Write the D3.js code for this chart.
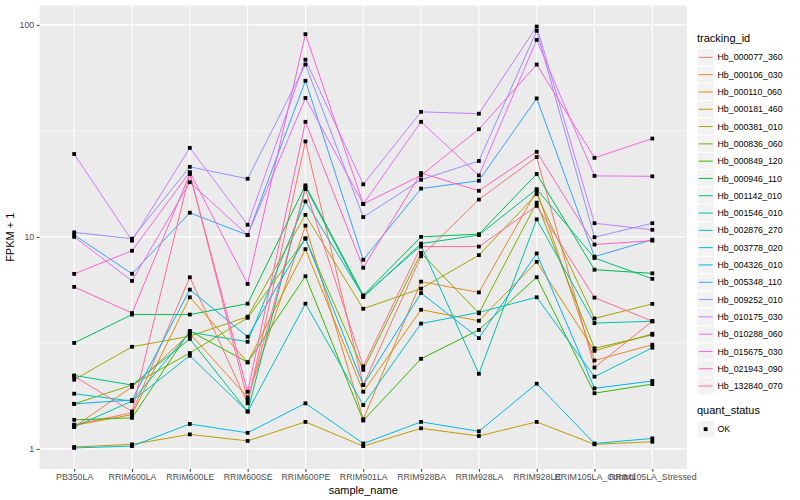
<html>
<head>
  <title>FPKM by sample</title>
  <script src="https://d3js.org/d3.v7.min.js"></script>
  <style>
    body { margin: 0; background: #fff; }
    text { font-family: "Liberation Sans", Arial, sans-serif; }
  </style>
</head>
<body>
<script>

// sample names along x
var samples = ["PB350LA", "RRIM600LA", "RRIM600LE", "RRIM600SE", "RRIM600PE", "RRIM901LA",
               "RRIM928BA", "RRIM928LA", "RRIM928LE", "RRIM105LA_Control", "RRIM105LA_Stressed"];

// FPKM + 1, one array per tracking id
var hb_000077_360 = [1.30, 1.48, 6.45, 1.64, 28.2, 2.0, 8.1, 15.0, 23.8, 2.42, 4.0];
var hb_000106_030 = [1.27, 1.96, 3.5, 1.75, 11.3, 1.38, 6.15, 5.47, 16.5, 2.61, 3.1];
var hb_000110_060 = [1.29, 1.45, 5.19, 2.56, 8.75, 1.86, 4.53, 4.02, 7.63, 2.9, 3.49];
var hb_000181_460 = [1.02, 1.05, 1.17, 1.09, 1.34, 1.03, 1.25, 1.15, 1.34, 1.05, 1.08];
var hb_000381_010 = [2.12, 3.03, 3.4, 4.2, 12.7, 4.58, 5.7, 8.2, 15.9, 4.12, 4.83];
var hb_000836_060 = [1.63, 2.0, 2.83, 4.15, 9.8, 2.36, 8.4, 4.36, 14.5, 2.98, 3.45];
var hb_000849_120 = [1.37, 1.4, 3.6, 2.56, 6.52, 1.36, 2.66, 3.64, 6.45, 1.83, 2.02];
var hb_000946_110 = [3.16, 4.3, 4.3, 4.84, 17.5, 5.3, 10.0, 10.3, 19.8, 7.0, 6.73];
var hb_001142_010 = [2.22, 2.0, 3.3, 1.5, 17.2, 5.2, 9.3, 10.2, 16.8, 7.95, 6.34];
var hb_001546_010 = [1.27, 1.68, 3.55, 3.2, 14.7, 5.25, 9.1, 2.26, 12.1, 3.92, 4.0];
var hb_002876_270 = [1.82, 1.68, 2.75, 1.5, 4.84, 1.61, 3.9, 4.4, 5.19, 2.19, 3.0];
var hb_003778_020 = [1.01, 1.03, 1.31, 1.19, 1.64, 1.06, 1.34, 1.21, 2.03, 1.06, 1.12];
var hb_004326_010 = [1.63, 1.7, 5.64, 3.38, 9.85, 2.0, 5.43, 3.33, 8.35, 1.93, 2.09];
var hb_005348_110 = [10.2, 6.7, 13.0, 10.2, 54.5, 7.8, 16.9, 18.4, 45.0, 8.07, 9.7];
var hb_009252_010 = [10.5, 9.8, 21.4, 18.8, 65.0, 12.4, 18.6, 22.8, 93.8, 9.96, 11.6];
var hb_010175_030 = [24.6, 9.6, 26.3, 11.4, 68.5, 17.7, 38.9, 38.1, 98.2, 11.6, 10.8];
var hb_010288_060 = [10.0, 6.2, 18.1, 10.2, 45.2, 14.3, 34.9, 19.5, 85.0, 19.4, 19.3];
var hb_015675_030 = [6.69, 8.6, 20.2, 6.0, 90.4, 14.3, 19.5, 32.2, 65.0, 23.6, 29.1];
var hb_021943_090 = [5.81, 4.37, 19.8, 1.86, 34.9, 7.15, 20.0, 16.5, 25.2, 9.2, 9.6];
var hb_132840_070 = [2.2, 1.5, 20.0, 1.7, 16.8, 2.45, 9.0, 9.0, 14.0, 5.17, 4.0];

var trackingIds = ["Hb_000077_360", "Hb_000106_030", "Hb_000110_060", "Hb_000181_460", "Hb_000381_010",
                   "Hb_000836_060", "Hb_000849_120", "Hb_000946_110", "Hb_001142_010", "Hb_001546_010",
                   "Hb_002876_270", "Hb_003778_020", "Hb_004326_010", "Hb_005348_110", "Hb_009252_010",
                   "Hb_010175_030", "Hb_010288_060", "Hb_015675_030", "Hb_021943_090", "Hb_132840_070"];
var seriesValues = [hb_000077_360, hb_000106_030, hb_000110_060, hb_000181_460, hb_000381_010,
                    hb_000836_060, hb_000849_120, hb_000946_110, hb_001142_010, hb_001546_010,
                    hb_002876_270, hb_003778_020, hb_004326_010, hb_005348_110, hb_009252_010,
                    hb_010175_030, hb_010288_060, hb_015675_030, hb_021943_090, hb_132840_070];

var yTicks = [1, 10, 100];
var yMinor = [Math.sqrt(10), Math.sqrt(1000)];

// ggplot hue palette, 20 levels
var colours = ["#F8766D", "#EA8331", "#D89000", "#C09B00", "#A3A500", "#7CAE00", "#39B600", "#00BB4E",
               "#00BF7D", "#00C1A3", "#00BFC4", "#00BAE0", "#00B0F6", "#35A2FF", "#9590FF", "#C77CFF",
               "#E76BF3", "#FA62DB", "#FF62BC", "#FF6C91"];

var series = trackingIds.map(function(id, i) {
    return {id: id, colour: colours[i],
            values: seriesValues[i].map(function(v, j) { return {sample: samples[j], value: v}; })};
});

var width = 800;
var height = 500;
var panel = {left: 39.5, right: 687, top: 5.5, bottom: 469};

var svg = d3.select('body')
            .append('svg')
            .attr('width', width)
            .attr('height', height);

var x = d3.scalePoint()
    .domain(samples)
    .range([panel.left, panel.right])
    .padding(0.6);

// log scale with ggplot's 5% expansion done in log space
var allVals = d3.merge(seriesValues);
var lo = Math.log10(d3.min(allVals)), hi = Math.log10(d3.max(allVals));
var pad = (hi - lo) * 0.05;
var y = d3.scaleLog()
    .domain([Math.pow(10, lo - pad), Math.pow(10, hi + pad)])
    .range([panel.bottom, panel.top]);

// panel background + grid
svg.append('rect')
    .attr('x', panel.left).attr('y', panel.top)
    .attr('width', panel.right - panel.left)
    .attr('height', panel.bottom - panel.top)
    .attr('fill', '#EBEBEB');

var grid = svg.append('g');
grid.selectAll('line.minor')
    .data(yMinor)
    .enter().append('line')
    .attr('x1', panel.left).attr('x2', panel.right)
    .attr('y1', d => y(d)).attr('y2', d => y(d))
    .attr('stroke', '#fff').attr('stroke-width', 0.55);
grid.selectAll('line.majory')
    .data(yTicks)
    .enter().append('line')
    .attr('x1', panel.left).attr('x2', panel.right)
    .attr('y1', d => y(d)).attr('y2', d => y(d))
    .attr('stroke', '#fff').attr('stroke-width', 1.1);
grid.selectAll('line.majorx')
    .data(samples)
    .enter().append('line')
    .attr('x1', d => x(d)).attr('x2', d => x(d))
    .attr('y1', panel.top).attr('y2', panel.bottom)
    .attr('stroke', '#fff').attr('stroke-width', 1.1);

// lines
var line = d3.line()
    .x(d => x(d.sample))
    .y(d => y(d.value));

svg.append('g').selectAll('path')
    .data(series)
    .enter()
    .append('path')
    .attr('d', d => line(d.values))
    .attr('fill', 'none')
    .attr('stroke', d => d.colour)
    .attr('stroke-width', 1);

// points
var points = svg.append('g');
series.forEach(function(s) {
    points.selectAll(null)
        .data(s.values)
        .enter()
        .append('rect')
        .attr('x', d => x(d.sample) - 1.9)
        .attr('y', d => y(d.value) - 1.9)
        .attr('width', 3.8)
        .attr('height', 3.8)
        .attr('fill', '#000');
});

// axes
var xAxis = svg.append('g')
    .attr('transform', 'translate(0,' + panel.bottom + ')')
    .call(d3.axisBottom(x).tickSize(2.75).tickPadding(2.5));
var yAxis = svg.append('g')
    .attr('transform', 'translate(' + panel.left + ',0)')
    .call(d3.axisLeft(y).tickValues(yTicks).tickFormat(d3.format('d')).tickSize(2.75).tickPadding(2.5));
[xAxis, yAxis].forEach(function(a) {
    a.select('.domain').remove();
    a.selectAll('.tick line').attr('stroke', '#333').attr('stroke-width', 1);
    a.selectAll('.tick text').attr('fill', '#4D4D4D').style('font-size', '8.8px')
        .style('font-family', '"Liberation Sans", Arial, sans-serif');
});

svg.append('text')
    .attr('x', (panel.left + panel.right) / 2)
    .attr('y', 494)
    .attr('text-anchor', 'middle')
    .style('font-size', '11px')
    .text('sample_name');

svg.append('text')
    .attr('transform', 'translate(14,' + (panel.top + panel.bottom) / 2 + ') rotate(-90)')
    .attr('text-anchor', 'middle')
    .style('font-size', '11px')
    .text('FPKM + 1');

// legend: tracking_id
var legend = svg.append('g').attr('transform', 'translate(697,0)');
legend.append('text')
    .attr('x', 0).attr('y', 42)
    .style('font-size', '11px')
    .text('tracking_id');

var keyH = 17.3;
var items = legend.selectAll('g.item')
    .data(series)
    .enter().append('g')
    .attr('transform', (d, i) => 'translate(0,' + (48.7 + i * keyH) + ')');
items.append('rect')
    .attr('width', 17.3).attr('height', keyH)
    .attr('fill', '#F2F2F2').attr('stroke', '#fff').attr('stroke-width', 1);
items.append('line')
    .attr('x1', 1.7).attr('x2', 15.6)
    .attr('y1', keyH / 2).attr('y2', keyH / 2)
    .attr('stroke', d => d.colour).attr('stroke-width', 1);
items.append('text')
    .attr('x', 20.5).attr('y', keyH / 2 + 3.1)
    .style('font-size', '8.8px')
    .text(d => d.id);

// legend: quant_status
var qLegend = svg.append('g').attr('transform', 'translate(697,0)');
qLegend.append('text')
    .attr('x', 0).attr('y', 414)
    .style('font-size', '11px')
    .text('quant_status');
qLegend.append('rect')
    .attr('x', 0).attr('y', 420.5)
    .attr('width', 17.3).attr('height', 17.3)
    .attr('fill', '#F2F2F2').attr('stroke', '#fff');
qLegend.append('rect')
    .attr('x', 8.65 - 1.9).attr('y', 429.15 - 1.9)
    .attr('width', 3.8).attr('height', 3.8)
    .attr('fill', '#000');
qLegend.append('text')
    .attr('x', 20.5).attr('y', 432.3)
    .style('font-size', '8.8px')
    .text('OK');

</script>
</body>
</html>
